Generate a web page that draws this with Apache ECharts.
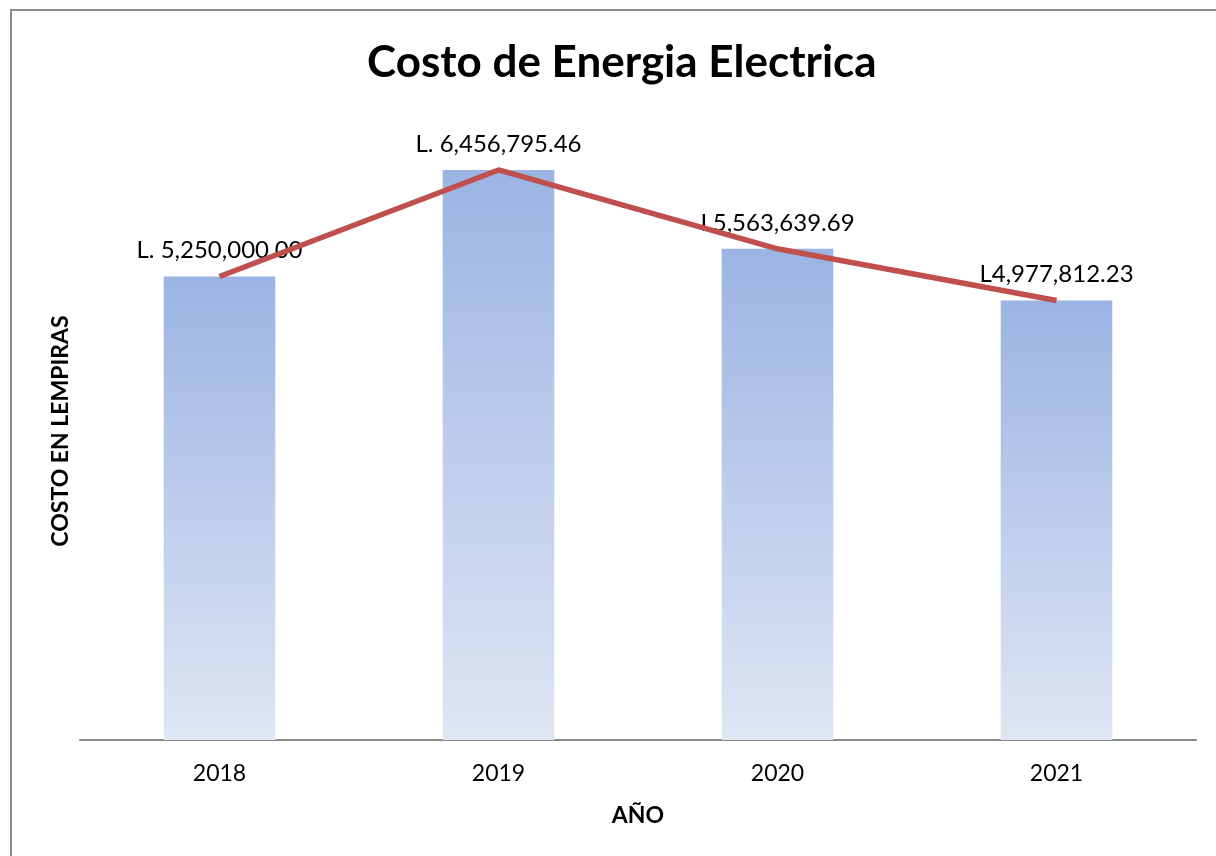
<!DOCTYPE html>
<html>
<head>
<meta charset="utf-8">
<script src="https://cdn.jsdelivr.net/npm/echarts@6/dist/echarts.min.js"></script>
<style>
  html, body { margin: 0; padding: 0; background: #fff; }
  #chart { width: 1216px; height: 856px; }
</style>
</head>
<body>
<div id="chart"></div>
<script>
var years = ['2018', '2019', '2020', '2021'];
var costos = [5250000.00, 6456795.46, 5563639.69, 4977812.23];
var etiquetas = ['L. 5,250,000.00', 'L. 6,456,795.46', 'L5,563,639.69', 'L4,977,812.23'];

var dom = document.getElementById('chart');
var myChart = echarts.init(dom);

var fuente = 'Lato, "Open Sans", sans-serif';

option = {
    backgroundColor: '#fff',
    animation: false,
    textStyle: { fontFamily: fuente },
    title: {
        text: 'Costo de Energia Electrica',
        left: 362,
        top: 36,
        textStyle: { fontSize: 44, fontWeight: 'bold', color: '#000', fontFamily: fuente }
    },
    graphic: [{
        type: 'rect',
        shape: { x: 11, y: 10, width: 1230, height: 900 },
        style: { fill: 'none', stroke: '#8a8a8a', lineWidth: 2 },
        silent: true
    }],
    grid: { left: 80, right: 20, top: 122, bottom: 116 },
    xAxis: {
        type: 'category',
        data: years,
        name: 'AÑO',
        nameLocation: 'middle',
        nameGap: 64,
        nameTextStyle: { fontSize: 23, fontWeight: 'bold', color: '#000' },
        axisLine: { lineStyle: { color: '#8a8a8a', width: 2 } },
        axisTick: { show: false },
        axisLabel: { fontSize: 23, color: '#000', margin: 22 }
    },
    yAxis: {
        type: 'value',
        min: 0,
        max: 7000000,
        interval: 1000000,
        name: 'COSTO EN LEMPIRAS',
        nameLocation: 'middle',
        nameGap: 8,
        nameTextStyle: { fontSize: 23, fontWeight: 'bold', color: '#000' },
        axisLine: { show: false },
        axisTick: { show: false },
        axisLabel: { show: false },
        splitLine: { show: false }
    },
    series: [
        {
            name: 'Costo',
            type: 'bar',
            data: costos,
            barWidth: '40%',
            itemStyle: {
                color: new echarts.graphic.LinearGradient(0, 0, 0, 1, [
                    { offset: 0, color: '#9bb4e3' },
                    { offset: 1, color: '#dfe6f4' }
                ])
            },
            label: {
                show: true,
                position: 'top',
                distance: 14,
                fontSize: 24,
                color: '#000',
                formatter: function (p) { return etiquetas[p.dataIndex]; }
            },
            z: 1
        },
        {
            name: 'Linea',
            type: 'line',
            data: costos,
            symbol: 'none',
            lineStyle: { color: '#c0504d', width: 5.5 },
            z: 3
        }
    ]
};

if (option && typeof option === 'object') {
    myChart.setOption(option, true);
}
</script>
</body>
</html>
